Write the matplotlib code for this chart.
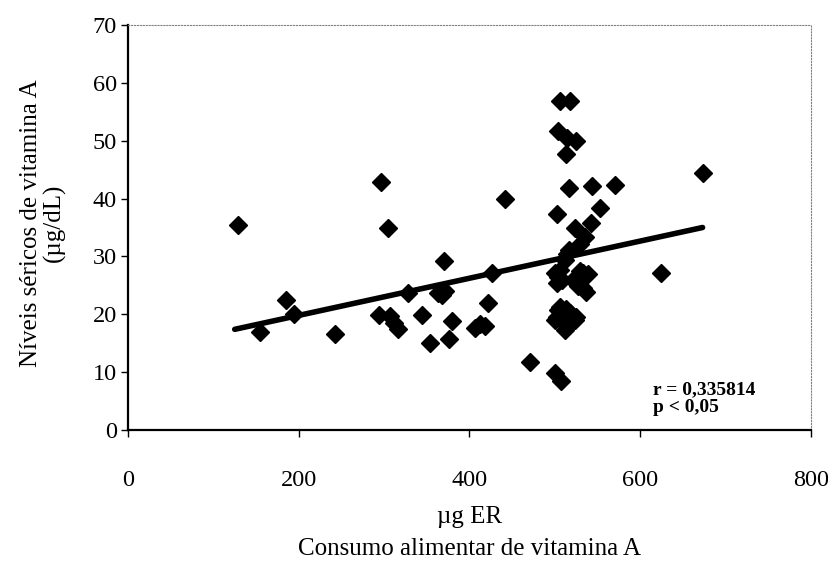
import numpy as np
import matplotlib.pyplot as plt

# consumo alimentar de vitamina A (ug ER) vs niveis sericos (ug/dL)
consumo = [129, 155, 185, 194, 242, 296, 304, 294, 307, 311,
           316, 328, 344, 354, 363, 368, 371, 370, 376, 380,
           406, 412, 418, 422, 426, 441, 471, 500, 507, 503,
           506, 518, 504, 514, 525, 513, 517, 543, 570, 553,
           542, 524, 535, 529, 517, 512, 506, 500, 508, 502,
           521, 529, 533, 539, 537, 533, 527, 504, 506, 502,
           500, 512, 514, 518, 525, 523, 513, 504, 514, 624,
           673]
niveis = [35.4, 17.0, 22.5, 20.0, 16.6, 42.9, 35.0, 19.8, 19.7, 18.5,
          17.4, 23.7, 19.9, 15.0, 23.6, 23.4, 24.0, 29.2, 15.7, 18.8,
          17.6, 18.3, 17.9, 22.0, 27.1, 39.9, 11.8, 9.9, 8.4, 37.3,
          56.9, 56.9, 51.7, 50.4, 50.0, 47.7, 41.8, 42.2, 42.3, 38.4,
          35.7, 35.0, 33.4, 32.1, 31.1, 29.4, 27.7, 27.1, 25.9, 25.4,
          25.9, 27.4, 27.1, 27.0, 23.9, 24.5, 24.9, 20.7, 21.3, 19.6,
          19.0, 17.3, 17.9, 20.2, 19.6, 19.0, 20.9, 26.5, 30.5, 27.2,
          44.5]

# linha de tendencia (extremos)
tend_x = [125, 673]
tend_y = [17.4, 35.0]

x_ticks = [0, 200, 400, 600, 800]
y_ticks = [0, 10, 20, 30, 40, 50, 60, 70]

plt.rcParams['font.family'] = ['Liberation Serif', 'DejaVu Serif']

fig = plt.figure(figsize=(8.29, 5.67), dpi=100)
ax = fig.add_axes([128 / 829, 1 - 430 / 567, (811 - 128) / 829, (430 - 25) / 567])

ax.plot(tend_x, tend_y, color='black', lw=4, solid_capstyle='round', zorder=2)
ax.plot(consumo, niveis, 'D', color='black', ms=8.8, zorder=3)

ax.set_xlim(0, 800)
ax.set_ylim(0, 70)
ax.set_xticks(x_ticks)
ax.set_yticks(y_ticks)
ax.tick_params(axis='x', direction='out', length=5, width=1, pad=24, labelsize=17.5)
ax.tick_params(axis='y', direction='out', length=5, width=1, pad=3, labelsize=17.5)

for s in ['left', 'bottom']:
    ax.spines[s].set_linewidth(1.6)
for s in ['top', 'right']:
    ax.spines[s].set_color('gray')
    ax.spines[s].set_linestyle(':')
    ax.spines[s].set_linewidth(0.8)

fig.text(43 / 829, 1 - 223 / 567, 'Níveis séricos de vitamina A\n(µg/dL)',
         rotation=90, ha='center', va='center', fontsize=18, linespacing=1.0,
         multialignment='center')
fig.text(469.5 / 829, 1 - 517 / 567, 'µg ER', ha='center', va='center', fontsize=18)
fig.text(469.5 / 829, 1 - 549 / 567, 'Consumo alimentar de vitamina A',
         ha='center', va='center', fontsize=18)

ax.text(615, 8.4, 'r = 0,335814\np < 0,05', ha='left', va='top',
        fontsize=14, fontweight='bold', linespacing=1.05)

plt.savefig('out.png', dpi=100)
